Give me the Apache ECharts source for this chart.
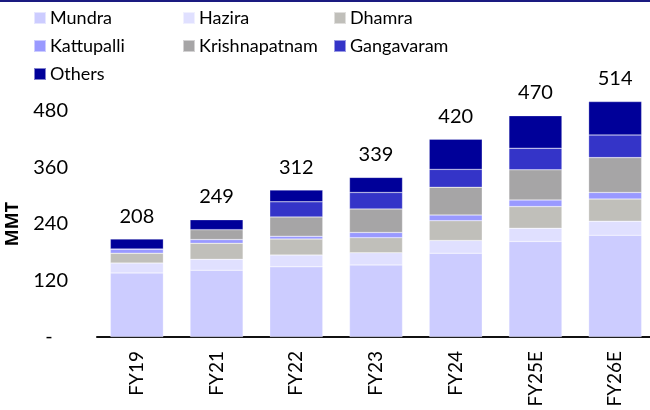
<!DOCTYPE html>
<html>
<head>
<meta charset="utf-8">
<script src="https://cdn.jsdelivr.net/npm/echarts@6/dist/echarts.min.js"></script>
<style>
  html, body { margin: 0; padding: 0; background: #fff; }
  #chart { width: 650px; height: 410px; }
</style>
</head>
<body>
<div id="chart"></div>
<script>
// categories and data (MMT)
const years = ["FY19", "FY21", "FY22", "FY23", "FY24", "FY25E", "FY26E"];
const mundra = [136, 142, 149, 153, 178, 203, 216];
const hazira = [21, 23, 25, 26, 27, 28, 30];
const dhamra = [21, 34, 34, 32, 42, 46, 47];
const kattupalli = [9, 8, 6, 11, 12, 14, 14];
const krishnapatnam = [0, 21, 41, 50, 59, 64, 74];
const gangavaram = [0, 0, 32, 35, 38, 46, 48];
const others = [21, 21, 25, 32, 64, 69, 71];
const totals = [208, 249, 312, 339, 420, 470, 514];
const yTicks = [0, 120, 240, 360, 480];

const fontFamily = "Lato, 'Open Sans', sans-serif";

const seriesDefs = [
  { name: "Mundra", data: mundra, color: "#CCCCFF" },
  { name: "Hazira", data: hazira, color: "#E0E0FF" },
  { name: "Dhamra", data: dhamra, color: "#C0BFBA" },
  { name: "Kattupalli", data: kattupalli, color: "#9999FF" },
  { name: "Krishnapatnam", data: krishnapatnam, color: "#A6A5A6" },
  { name: "Gangavaram", data: gangavaram, color: "#3434C8" },
  { name: "Others", data: others, color: "#000099" }
];

const series = seriesDefs.map((s, i) => {
  const item = {
    name: s.name,
    type: "bar",
    stack: "total",
    barWidth: 53,
    clip: false,
    itemStyle: { color: s.color, borderColor: "rgba(255,255,255,0.5)", borderWidth: 0.5 },
    data: s.data
  };
  if (i === seriesDefs.length - 1) {
    // totals on top of the stack
    item.label = {
      show: true,
      position: "top",
      distance: 13,
      color: "#000",
      fontSize: 20,
      fontFamily: fontFamily,
      formatter: p => totals[p.dataIndex]
    };
  }
  return item;
});

const legendBase = {
  orient: "vertical",
  itemWidth: 12,
  itemHeight: 12,
  itemGap: 10,
  icon: "rect",
  selectedMode: false,
  textStyle: { fontSize: 18, color: "#000", fontFamily: fontFamily, padding: [0, 0, 0, -1] }
};

const myChart = echarts.init(document.getElementById("chart"));
const option = {
  animation: false,
  backgroundColor: "#fff",
  graphic: [
    {
      type: "rect",
      shape: { x: 0, y: 0, width: 650, height: 2 },
      style: { fill: "#1A1A80" }
    }
  ],
  legend: [
    Object.assign({}, legendBase, { left: 28, top: 4, data: ["Mundra", "Kattupalli", "Others"] }),
    Object.assign({}, legendBase, { left: 177, top: 4, data: ["Hazira", "Krishnapatnam"] }),
    Object.assign({}, legendBase, { left: 328, top: 4, data: ["Dhamra", "Gangavaram"] })
  ],
  grid: {
    left: 97,
    top: 111,
    width: 558,
    height: 226,
    outerBoundsMode: "none"
  },
  xAxis: {
    type: "category",
    data: years,
    axisLine: { lineStyle: { color: "#111", width: 2 } },
    axisTick: { show: false },
    axisLabel: {
      rotate: 90,
      margin: 14,
      color: "#000",
      fontSize: 19,
      fontFamily: fontFamily
    }
  },
  yAxis: {
    type: "value",
    min: yTicks[0],
    max: yTicks[yTicks.length - 1],
    interval: 120,
    name: "MMT",
    nameLocation: "middle",
    nameGap: 67,
    nameTextStyle: { fontSize: 18, fontWeight: "bold", color: "#000", fontFamily: "'Open Sans', sans-serif" },
    axisLine: { show: false },
    axisTick: { show: false },
    splitLine: { show: false },
    axisLabel: {
      margin: 29,
      color: "#000",
      fontSize: 20,
      fontFamily: fontFamily,
      formatter: v => (v === 0 ? "-   " : v)
    }
  },
  series: series
};
myChart.setOption(option);
</script>
</body>
</html>
